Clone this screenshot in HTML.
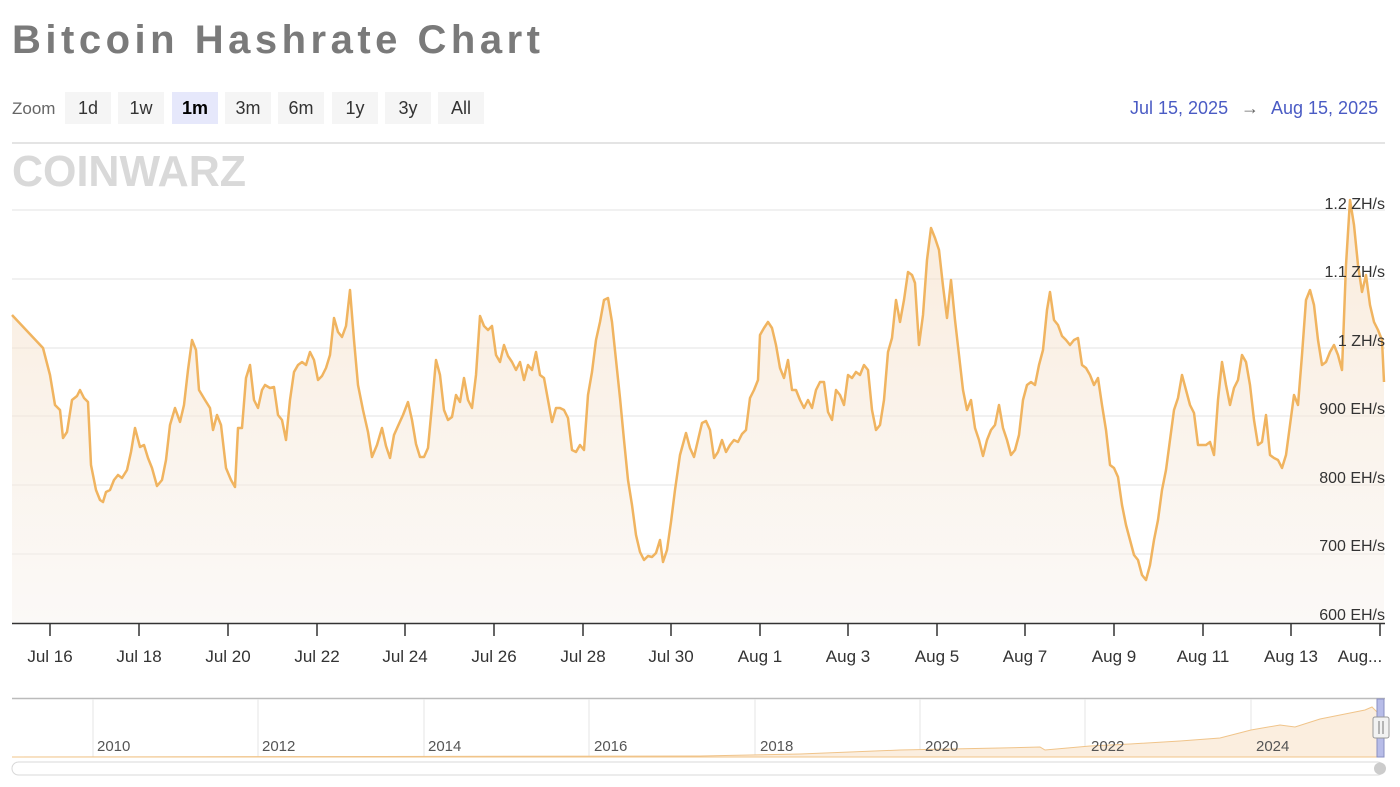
<!DOCTYPE html>
<html><head><meta charset="utf-8"><style>
html,body{margin:0;padding:0;background:#fff;width:1400px;height:787px;overflow:hidden;font-family:"Liberation Sans",sans-serif}
</style></head><body>
<svg width="1400" height="787" xmlns="http://www.w3.org/2000/svg" font-family="Liberation Sans, sans-serif">
<defs>
<linearGradient id="g" x1="0" y1="0" x2="0" y2="1"><stop offset="0" stop-color="#f5dcc0" stop-opacity="0.55"/><stop offset="1" stop-color="#f7f3ef" stop-opacity="0.5"/></linearGradient>
</defs>
<text x="12" y="53" font-size="40" font-weight="bold" fill="#7a7a7a" textLength="528" lengthAdjust="spacing">Bitcoin Hashrate Chart</text>
<text x="12" y="114" font-size="17" fill="#666">Zoom</text>
<g font-size="18" fill="#333" text-anchor="middle">
<rect x="65" y="92" width="46" height="32" fill="#f5f5f5"/><text x="88" y="114">1d</text>
<rect x="118" y="92" width="46" height="32" fill="#f5f5f5"/><text x="141" y="114">1w</text>
<rect x="172" y="92" width="46" height="32" fill="#e6e8fb"/><text x="195" y="114" font-weight="bold" fill="#000">1m</text>
<rect x="225" y="92" width="46" height="32" fill="#f5f5f5"/><text x="248" y="114">3m</text>
<rect x="278" y="92" width="46" height="32" fill="#f5f5f5"/><text x="301" y="114">6m</text>
<rect x="332" y="92" width="46" height="32" fill="#f5f5f5"/><text x="355" y="114">1y</text>
<rect x="385" y="92" width="46" height="32" fill="#f5f5f5"/><text x="408" y="114">3y</text>
<rect x="438" y="92" width="46" height="32" fill="#f5f5f5"/><text x="461" y="114">All</text>
</g>
<g font-size="18" fill="#4a5bc4"><text x="1130" y="114">Jul 15, 2025</text><text x="1241" y="114" fill="#666">→</text><text x="1271" y="114">Aug 15, 2025</text></g>
<line x1="12" y1="143" x2="1385" y2="143" stroke="#e4e4e4" stroke-width="2"/>
<text x="12" y="186" font-size="44" font-weight="bold" fill="#d9d9d9" textLength="234" lengthAdjust="spacingAndGlyphs">COINWARZ</text>
<g stroke="#e3e3e3" stroke-width="1">
<line x1="12" y1="210" x2="1385" y2="210"/><line x1="12" y1="279" x2="1385" y2="279"/><line x1="12" y1="348" x2="1385" y2="348"/><line x1="12" y1="416" x2="1385" y2="416"/><line x1="12" y1="485" x2="1385" y2="485"/><line x1="12" y1="554" x2="1385" y2="554"/>
</g>
<polygon fill="url(#g)" points="12,623 12,315 43,348 50,375 55,405 60,410 63,438 67,432 72,400 77,396 80,390 84,398 88,402 91,465 96,490 100,500 103,502 106,492 110,490 114,480 118,475 122,478 127,470 131,452 135,428 140,447 144,445 148,458 152,468 157,486 162,480 166,460 170,425 175,408 180,422 184,405 188,370 192,340 196,350 199,390 205,400 210,408 213,430 217,415 221,425 226,468 231,480 235,487 238,428 242,428 246,378 250,365 254,400 258,408 262,390 265,385 270,388 274,387 278,415 282,420 286,440 290,400 294,372 298,365 302,362 306,365 310,352 314,360 318,380 322,376 326,368 330,355 334,318 338,332 342,337 346,326 350,290 354,340 358,385 363,410 368,432 372,457 377,445 382,428 386,446 390,458 394,435 398,426 403,415 408,402 412,420 416,444 420,457 424,457 428,448 432,405 436,360 440,375 444,410 448,420 452,417 456,395 460,402 464,378 468,400 472,408 476,375 480,316 484,326 488,330 492,326 496,355 500,362 504,345 508,356 512,362 516,370 520,362 524,380 528,365 532,370 536,352 540,375 544,378 548,400 552,422 556,408 560,408 564,410 568,418 572,450 576,452 580,445 584,450 588,395 592,372 596,340 600,322 604,300 608,298 612,322 616,360 620,398 624,440 628,480 632,505 636,535 640,552 644,560 648,556 652,557 656,553 660,540 663,562 667,550 671,522 675,490 680,455 686,433 690,448 694,457 698,440 702,423 706,421 710,430 714,458 718,452 722,440 726,452 730,445 734,440 738,442 742,434 746,430 750,398 754,390 758,380 760,335 764,328 768,322 772,328 776,345 780,368 784,378 788,360 792,390 796,390 800,400 804,408 808,400 812,408 816,390 820,382 824,382 828,412 832,420 836,390 840,395 844,405 848,375 852,378 856,372 860,375 864,365 868,370 872,410 876,430 880,425 884,400 888,352 892,338 896,300 900,322 904,300 908,272 912,275 915,283 919,345 923,315 927,260 931,228 935,238 939,250 943,286 947,318 951,280 955,320 959,355 963,390 967,410 971,400 975,428 979,440 983,456 987,440 991,430 995,425 999,405 1003,428 1007,440 1011,455 1015,450 1019,435 1023,400 1027,385 1031,382 1035,385 1039,365 1043,350 1047,310 1050,292 1054,320 1058,325 1062,336 1066,340 1070,345 1074,340 1078,338 1082,365 1086,368 1090,375 1094,385 1098,378 1102,405 1106,430 1110,465 1114,468 1118,477 1122,505 1126,525 1130,540 1134,555 1138,560 1142,575 1146,580 1150,565 1154,540 1158,520 1162,490 1166,470 1170,440 1174,410 1178,398 1182,375 1186,390 1190,405 1194,413 1198,445 1202,445 1206,445 1210,442 1214,455 1218,400 1222,362 1226,385 1230,405 1234,388 1238,380 1242,355 1246,362 1250,385 1254,420 1258,445 1262,442 1266,415 1270,455 1274,458 1278,460 1282,468 1286,455 1290,425 1294,395 1298,405 1302,355 1306,300 1310,290 1314,305 1318,340 1322,365 1326,362 1330,352 1334,345 1338,355 1342,370 1346,265 1350,200 1354,225 1358,265 1362,292 1366,275 1370,305 1374,322 1378,330 1382,340 1384,382 1384,623"/>
<polyline fill="none" stroke="#f0b460" stroke-width="2.5" stroke-linejoin="round" points="12,315 43,348 50,375 55,405 60,410 63,438 67,432 72,400 77,396 80,390 84,398 88,402 91,465 96,490 100,500 103,502 106,492 110,490 114,480 118,475 122,478 127,470 131,452 135,428 140,447 144,445 148,458 152,468 157,486 162,480 166,460 170,425 175,408 180,422 184,405 188,370 192,340 196,350 199,390 205,400 210,408 213,430 217,415 221,425 226,468 231,480 235,487 238,428 242,428 246,378 250,365 254,400 258,408 262,390 265,385 270,388 274,387 278,415 282,420 286,440 290,400 294,372 298,365 302,362 306,365 310,352 314,360 318,380 322,376 326,368 330,355 334,318 338,332 342,337 346,326 350,290 354,340 358,385 363,410 368,432 372,457 377,445 382,428 386,446 390,458 394,435 398,426 403,415 408,402 412,420 416,444 420,457 424,457 428,448 432,405 436,360 440,375 444,410 448,420 452,417 456,395 460,402 464,378 468,400 472,408 476,375 480,316 484,326 488,330 492,326 496,355 500,362 504,345 508,356 512,362 516,370 520,362 524,380 528,365 532,370 536,352 540,375 544,378 548,400 552,422 556,408 560,408 564,410 568,418 572,450 576,452 580,445 584,450 588,395 592,372 596,340 600,322 604,300 608,298 612,322 616,360 620,398 624,440 628,480 632,505 636,535 640,552 644,560 648,556 652,557 656,553 660,540 663,562 667,550 671,522 675,490 680,455 686,433 690,448 694,457 698,440 702,423 706,421 710,430 714,458 718,452 722,440 726,452 730,445 734,440 738,442 742,434 746,430 750,398 754,390 758,380 760,335 764,328 768,322 772,328 776,345 780,368 784,378 788,360 792,390 796,390 800,400 804,408 808,400 812,408 816,390 820,382 824,382 828,412 832,420 836,390 840,395 844,405 848,375 852,378 856,372 860,375 864,365 868,370 872,410 876,430 880,425 884,400 888,352 892,338 896,300 900,322 904,300 908,272 912,275 915,283 919,345 923,315 927,260 931,228 935,238 939,250 943,286 947,318 951,280 955,320 959,355 963,390 967,410 971,400 975,428 979,440 983,456 987,440 991,430 995,425 999,405 1003,428 1007,440 1011,455 1015,450 1019,435 1023,400 1027,385 1031,382 1035,385 1039,365 1043,350 1047,310 1050,292 1054,320 1058,325 1062,336 1066,340 1070,345 1074,340 1078,338 1082,365 1086,368 1090,375 1094,385 1098,378 1102,405 1106,430 1110,465 1114,468 1118,477 1122,505 1126,525 1130,540 1134,555 1138,560 1142,575 1146,580 1150,565 1154,540 1158,520 1162,490 1166,470 1170,440 1174,410 1178,398 1182,375 1186,390 1190,405 1194,413 1198,445 1202,445 1206,445 1210,442 1214,455 1218,400 1222,362 1226,385 1230,405 1234,388 1238,380 1242,355 1246,362 1250,385 1254,420 1258,445 1262,442 1266,415 1270,455 1274,458 1278,460 1282,468 1286,455 1290,425 1294,395 1298,405 1302,355 1306,300 1310,290 1314,305 1318,340 1322,365 1326,362 1330,352 1334,345 1338,355 1342,370 1346,265 1350,200 1354,225 1358,265 1362,292 1366,275 1370,305 1374,322 1378,330 1382,340 1384,382"/>
<g font-size="16" fill="#333" text-anchor="end">
<text x="1385" y="209">1.2 ZH/s</text><text x="1385" y="277">1.1 ZH/s</text><text x="1385" y="346">1 ZH/s</text><text x="1385" y="414">900 EH/s</text><text x="1385" y="483">800 EH/s</text><text x="1385" y="551">700 EH/s</text><text x="1385" y="620">600 EH/s</text>
</g>
<line x1="12" y1="623.5" x2="1385" y2="623.5" stroke="#333" stroke-width="1.5"/>
<g stroke="#333" stroke-width="1.5">
<line x1="50" y1="623" x2="50" y2="636"/><line x1="139" y1="623" x2="139" y2="636"/><line x1="228" y1="623" x2="228" y2="636"/><line x1="317" y1="623" x2="317" y2="636"/><line x1="405" y1="623" x2="405" y2="636"/><line x1="494" y1="623" x2="494" y2="636"/><line x1="583" y1="623" x2="583" y2="636"/><line x1="671" y1="623" x2="671" y2="636"/><line x1="760" y1="623" x2="760" y2="636"/><line x1="848" y1="623" x2="848" y2="636"/><line x1="937" y1="623" x2="937" y2="636"/><line x1="1025" y1="623" x2="1025" y2="636"/><line x1="1114" y1="623" x2="1114" y2="636"/><line x1="1203" y1="623" x2="1203" y2="636"/><line x1="1291" y1="623" x2="1291" y2="636"/><line x1="1380" y1="623" x2="1380" y2="636"/>
</g>
<g font-size="17" fill="#333" text-anchor="middle">
<text x="50" y="662">Jul 16</text><text x="139" y="662">Jul 18</text><text x="228" y="662">Jul 20</text><text x="317" y="662">Jul 22</text><text x="405" y="662">Jul 24</text><text x="494" y="662">Jul 26</text><text x="583" y="662">Jul 28</text><text x="671" y="662">Jul 30</text><text x="760" y="662">Aug 1</text><text x="848" y="662">Aug 3</text><text x="937" y="662">Aug 5</text><text x="1025" y="662">Aug 7</text><text x="1114" y="662">Aug 9</text><text x="1203" y="662">Aug 11</text><text x="1291" y="662">Aug 13</text><text x="1360" y="662">Aug...</text>
</g>
<line x1="12" y1="698.5" x2="1385" y2="698.5" stroke="#bbb" stroke-width="1.5"/>
<g stroke="#e6e6e6"><line x1="93" y1="699" x2="93" y2="757"/><line x1="258" y1="699" x2="258" y2="757"/><line x1="424" y1="699" x2="424" y2="757"/><line x1="589" y1="699" x2="589" y2="757"/><line x1="755" y1="699" x2="755" y2="757"/><line x1="920" y1="699" x2="920" y2="757"/><line x1="1085" y1="699" x2="1085" y2="757"/><line x1="1251" y1="699" x2="1251" y2="757"/></g>
<polygon fill="#fbeedf" stroke="#f0c48a" stroke-width="1" points="12,757 700,756 800,754 850,752 900,750 950,749 1000,748 1040,747 1045,750 1090,746 1130,744 1180,741 1220,738 1251,730 1280,725 1295,727 1320,719 1345,714 1365,710 1372,707 1377,712 1381,706 1381,757"/>
<g font-size="15" fill="#555"><text x="97" y="751">2010</text><text x="262" y="751">2012</text><text x="428" y="751">2014</text><text x="594" y="751">2016</text><text x="760" y="751">2018</text><text x="925" y="751">2020</text><text x="1091" y="751">2022</text><text x="1256" y="751">2024</text></g>
<rect x="1377" y="699" width="7" height="58" fill="#b7bce8" stroke="#8a8fc0"/>
<rect x="1373" y="717" width="16" height="21" fill="#f2f2f2" stroke="#999" rx="2"/>
<line x1="1379" y1="721" x2="1379" y2="734" stroke="#777"/><line x1="1383" y1="721" x2="1383" y2="734" stroke="#777"/>
<rect x="12" y="762" width="1372" height="13" rx="6.5" fill="#fff" stroke="#d8d8d8"/>
<circle cx="1380" cy="768.5" r="6" fill="#ccc"/>
</svg>
</body></html>
